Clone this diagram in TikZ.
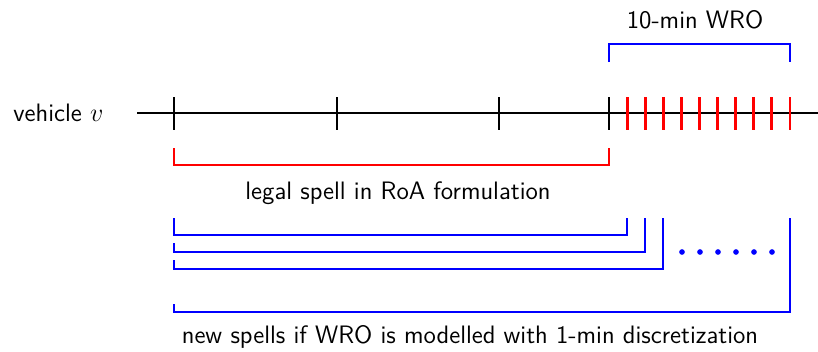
\documentclass[tikz,border=0pt]{standalone}
\begin{document}
\begin{tikzpicture}[x=0.46pt,y=-0.46pt,
  every node/.style={font=\fontsize{11.6}{13.5}\selectfont\sffamily, inner sep=0pt},
  axis/.style={line width=1.35pt, black},
  blacktick/.style={line width=1.35pt, black},
  redtick/.style={line width=1.35pt, red},
  redbracket/.style={line width=1.3pt, red},
  bluebracket/.style={line width=1.3pt, blue},
  bluedot/.style={fill=blue, draw=none}]
\useasboundingbox (0,0) rectangle (818,351);

% timeline
\coordinate (axL) at (137,113);
\coordinate (axR) at (818,113);
\draw[axis] (axL) -- (axR);
\node[anchor=west] (veh) at (13,113) {vehicle $v$};

% coarse (black) ticks
\foreach \x/\n in {174/t0,337/t1,499/t2,609/t3}{
  \coordinate (\n) at (\x,113);
  \draw[blacktick] (\x,97) -- (\x,130);
}
% 1-min (red) ticks
\foreach \i in {1,...,10}{
  \coordinate (m\i) at ({609+18.1*\i},113);
  \draw[redtick] ({609+18.1*\i},97) -- ({609+18.1*\i},130);
}

% 10-min WRO bracket
\draw[bluebracket] (609,62) -- (609,44) -- (790,44) -- (790,62);
\node (wro) at (695,20) {10-min WRO};

% legal spell bracket
\draw[redbracket] (174,148) -- (174,165) -- (609,165) -- (609,148);
\node (legal) at (398,193) {legal spell in RoA formulation};

% new spells
\draw[bluebracket] (174,218) -- (174,235) -- (627,235) -- (627,218);
\draw[bluebracket] (174,243) -- (174,252) -- (645,252) -- (645,218);
\draw[bluebracket] (174,260) -- (174,269) -- (663,269) -- (663,218);
\draw[bluebracket] (174,304) -- (174,312) -- (790,312) -- (790,218);
\foreach \x in {682,700,718,736,754,772}{
  \fill[bluedot] (\x,252) circle (1.3pt);
}
\node (spells) at (470,337) {new spells if WRO is modelled with 1-min discretization};
\end{tikzpicture}
\end{document}
